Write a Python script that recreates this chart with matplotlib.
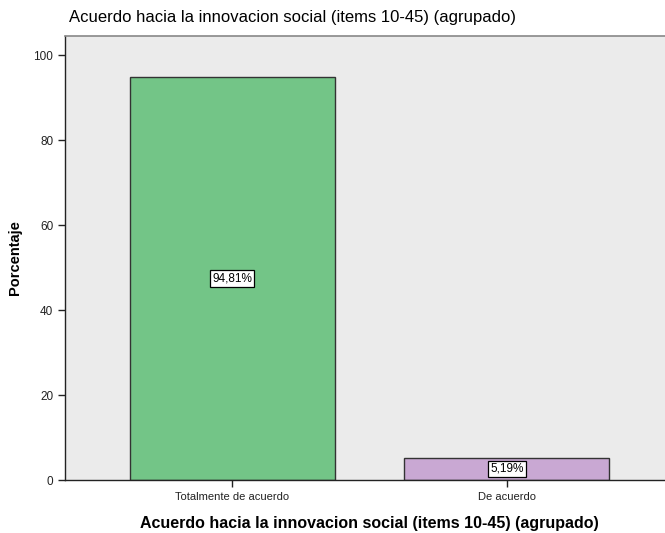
import matplotlib
matplotlib.use("Agg")
import matplotlib.pyplot as plt
import numpy as np

categories = ["Totalmente de acuerdo", "De acuerdo"]
percentages = [94.81, 5.19]
bar_labels = ["94,81%", "5,19%"]
colors = ["#73c587", "#c9a8d3"]

title = "Acuerdo hacia la innovacion social (items 10-45) (agrupado)"

plt.rcParams["font.family"] = ["Liberation Sans", "DejaVu Sans"]

fig = plt.figure(figsize=(6.65, 5.33), dpi=100)
ax = fig.add_axes([0.0977, 0.0994, 0.916, 0.8331])
ax.set_facecolor("#ebebeb")

x = np.arange(len(categories))
ax.bar(x, percentages, width=0.747, color=colors, edgecolor="#333333", lw=1.0, zorder=2)
for xi, v, lab in zip(x, percentages, bar_labels):
    ax.text(xi, v / 2, lab, ha="center", va="center", fontsize=8.5,
            bbox=dict(boxstyle="square,pad=0.18", fc="white", ec="black", lw=0.9), zorder=3)

ax.set_xlim(-0.61, 1.61)
ax.set_ylim(0, 104.5)
ax.set_yticks([0, 20, 40, 60, 80, 100])
ax.set_xticks(x)
ax.set_xticklabels(categories, fontsize=8)
ax.tick_params(axis="y", labelsize=8.5, length=5, width=1, colors="#222222")
ax.tick_params(axis="x", length=5, width=1, colors="#222222")

for s in ("left", "bottom"):
    ax.spines[s].set_color("#222222"); ax.spines[s].set_linewidth(1.0)
ax.spines["top"].set_color("#888888"); ax.spines["top"].set_linewidth(1.2)
ax.spines["right"].set_visible(False)

ax.set_ylabel("Porcentaje", fontsize=10.5, weight="bold", labelpad=8)
ax.set_xlabel(title, fontsize=11.5, weight="bold", labelpad=10)
fig.text(0.44, 0.967, title, ha="center", va="center", fontsize=12)

fig.savefig("out.png", dpi=100)
